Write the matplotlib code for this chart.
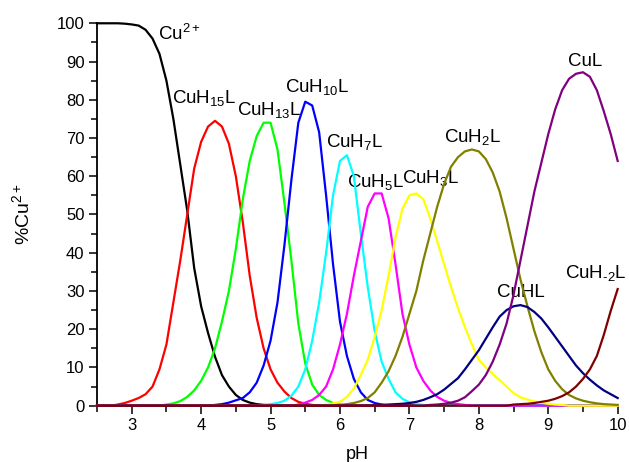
import numpy as np
import matplotlib
matplotlib.use("Agg")
import matplotlib.pyplot as plt

plt.rcParams['font.family'] = ['Liberation Sans', 'DejaVu Sans']
plt.rcParams['mathtext.fontset'] = 'custom'
plt.rcParams['mathtext.rm'] = 'Liberation Sans'
plt.rcParams['mathtext.it'] = 'Liberation Sans:italic'

# pH grid, step 0.1
ph = np.arange(25, 101) / 10

# species curves: (first pH, values every 0.1 pH), zero elsewhere
cu = (2.5, [100, 100, 100, 100, 99.9, 99.7, 99.4, 98.3, 96, 92, 85, 75, 63, 51, 36, 26,
            19, 12.8, 8, 5, 2.8, 1.5, 0.8, 0.4, 0.2, 0.1])
cuh15l = (2.8, [0.3, 0.7, 1.3, 2, 3, 5, 9.5, 16, 27, 38, 50, 62, 69, 73, 74.5, 73, 68.5, 60,
                48, 34, 23, 15, 9.5, 6, 3.7, 2, 1, 0.5, 0.2])
cuh13l = (3.5, [0.3, 0.6, 1.2, 2.3, 4, 6.5, 10, 15, 22, 30, 41, 54, 64, 70.5, 74, 74, 67, 53,
                38, 21.5, 11, 5.5, 2.8, 1.5, 0.7, 0.3])
cuh10l = (4.2, [0.2, 0.4, 0.8, 1.4, 2, 3.5, 6, 10.5, 17, 27, 42, 59, 74, 79.5, 78.5, 71.5, 55,
                37, 22, 13, 7, 3.5, 1.5, 0.7, 0.3])
cuh7l = (4.9, [0.2, 0.4, 0.7, 1.3, 2.6, 5, 9.5, 17, 27, 40, 55, 64, 65.5, 60, 45, 31, 19.5,
               11.5, 7, 3.5, 1.8, 0.9, 0.4, 0.2])
cuh5l = (5.4, [0.3, 0.8, 1.5, 2.8, 5, 9.5, 16, 24, 34, 43, 52, 55.5, 55.5, 49, 37, 24, 16, 10,
               6.5, 4, 2.3, 1.3, 0.7, 0.4, 0.2])
cuh3l = (5.8, [0.3, 0.6, 1, 2.3, 4.5, 8, 12, 18, 25, 34, 44, 51.5, 55, 55.5, 54, 49, 43, 37,
               31, 25.5, 20.5, 16, 12, 10, 8.3, 6.7, 5, 3.3, 2.2, 1.6, 1.1, 0.8, 0.5, 0.3, 0.2])
cuh2l = (6.0, [0.2, 0.4, 0.7, 1.2, 2, 3.5, 6, 9, 13, 18, 24, 30, 38, 45, 52, 58, 62.5, 65,
               66.5, 67, 66.5, 64.5, 61, 56, 49, 41, 33, 26, 19.5, 14, 9.5, 6.5, 4.3, 2.8,
               1.9, 1.3, 0.9, 0.6, 0.4, 0.3, 0.2])
cuhl = (6.5, [0.1, 0.2, 0.3, 0.4, 0.5, 0.7, 1, 1.5, 2.2, 3, 4.2, 5.7, 7.2, 9.5, 12, 14.5, 17.5,
              20.5, 23.3, 25, 26, 26.3, 25.8, 24.5, 22.8, 20.5, 18, 15.5, 13, 10.5, 8.5, 6.8,
              5.3, 4, 3, 2])
cul = (7.3, [0.2, 0.3, 0.5, 0.8, 1.3, 2.2, 3.8, 5.5, 8, 11.5, 16, 21.5, 29, 38, 47, 56, 63.5,
             71, 77.5, 82.5, 85.5, 86.8, 87.2, 86, 82.5, 77, 71, 64])
cuhm2l = (8.5, [0.3, 0.4, 0.5, 0.7, 1, 1.3, 1.8, 2.5, 3.5, 5, 7, 9.5, 13, 18.5, 24.8, 30.5])

series = [cu, cuh15l, cuh13l, cuh10l, cuh7l, cuh5l, cuh3l, cuh2l, cuhl, cul, cuhm2l]
colors = ['black', '#FF0000', '#00FF00', '#0000FF', '#00FFFF', '#FF00FF', '#FFFF00',
          '#808000', '#000080', '#800080', '#800000']

labels = [r'Cu$^{2+}$', r'CuH$_{15}$L', r'CuH$_{13}$L', r'CuH$_{10}$L', r'CuH$_{7}$L',
          r'CuH$_{5}$L', r'CuH$_{3}$L', r'CuH$_{2}$L', 'CuHL', 'CuL', 'CuH$_{\u2010 2}$L']
label_x = [3.38, 3.58, 4.52, 5.21, 5.80, 6.10, 6.90, 7.50, 8.26, 9.28, 9.24]
label_y = [95.6, 79.2, 76.0, 82.1, 67.7, 57.3, 58.2, 69.0, 28.5, 88.8, 33.5]


def full(s):
    start, vals = s
    y = np.zeros(len(ph))
    i0 = int(round((start - 2.5) * 10))
    y[i0:i0 + len(vals)] = vals
    return y


fig = plt.figure(figsize=(6.29, 4.62), dpi=100)
ax = fig.add_axes([0.1542, 0.1219, 0.8278, 0.8277])

for k, s in enumerate(series):
    ax.plot(ph, full(s), color=colors[k], lw=1.6, clip_on=False, zorder=3 + k * 0.01)

for k in range(len(labels)):
    ax.text(label_x[k], label_y[k], labels[k], fontsize=13.5, ha='left', va='baseline')

ax.set_xlim(2.5, 10)
ax.set_ylim(0, 100)
ax.set_xticks(np.arange(3, 11, 1))
ax.set_xticks(np.arange(2.5, 10.01, 0.5), minor=True)
ax.set_yticks(np.arange(0, 101, 10))
ax.set_yticks(np.arange(0, 101, 5), minor=True)

ax.spines['top'].set_visible(False)
ax.spines['right'].set_visible(False)
ax.spines['left'].set_linewidth(1.3)
ax.spines['bottom'].set_linewidth(1.3)
ax.tick_params(which='major', direction='out', length=6, width=1.1, labelsize=12, pad=3)
ax.tick_params(which='minor', direction='out', length=4, width=1.1)

ax.set_xlabel('pH', fontsize=13, labelpad=9)
ax.set_ylabel(r'%Cu$^{2+}$', fontsize=14, labelpad=17)

fig.savefig('out.png', dpi=100)
